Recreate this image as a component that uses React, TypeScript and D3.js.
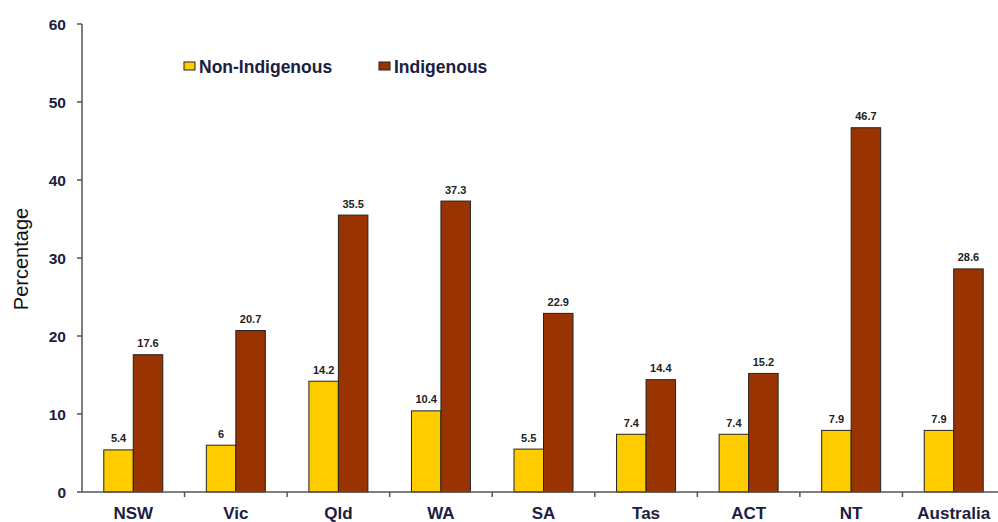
import React from "react";
import * as d3 from "d3";

const categories = ["NSW", "Vic", "Qld", "WA", "SA", "Tas", "ACT", "NT", "Australia"];
const seriesNames = ["Non-Indigenous", "Indigenous"];
const nonIndigenous = [5.4, 6, 14.2, 10.4, 5.5, 7.4, 7.4, 7.9, 7.9];
const indigenous = [17.6, 20.7, 35.5, 37.3, 22.9, 14.4, 15.2, 46.7, 28.6];
const yTicks = [0, 10, 20, 30, 40, 50, 60];
const colors = ["#FFCC00", "#993300"];

export default function App() {
  const W = 998, H = 522;
  const x0 = 82, x1 = 1005, yTop = 24, yBot = 492;
  const x = d3.scaleBand<string>().domain(categories).range([x0, x1]).paddingInner(0).paddingOuter(0);
  const y = d3.scaleLinear().domain([0, 60]).range([yBot, yTop]);
  const bw = 29.5;
  const series = [nonIndigenous, indigenous];
  const tickFont = "Arial, 'Liberation Sans', sans-serif";
  return (
    <svg width={W} height={H} style={{ position: "absolute", left: 0, top: 0 }}>
      <rect width={W} height={H} fill="#fff" />
      {/* bars */}
      {categories.map((c, i) => {
        const cx = (x(c) as number) + x.bandwidth() / 2;
        return series.map((s, k) => {
          const bx = cx - bw + k * bw;
          const v = s[i];
          return (
            <g key={c + k}>
              <rect x={bx} y={y(v)} width={bw} height={yBot - y(v)} fill={colors[k]} stroke="#222" strokeWidth={1} />
              <text x={bx + bw / 2} y={y(v) - 7.5} textAnchor="middle" fontFamily={tickFont} fontWeight="bold" fontSize={11} fill="#222">{String(v)}</text>
            </g>
          );
        });
      })}
      {/* y axis */}
      <line x1={x0} x2={x0} y1={yTop} y2={yBot} stroke="#555" strokeWidth={1.5} />
      {yTicks.map((t) => (
        <g key={t}>
          <line x1={x0 - 5} x2={x0} y1={y(t)} y2={y(t)} stroke="#555" strokeWidth={1.5} />
          <text x={x0 - 16} y={y(t) + 5.5} textAnchor="end" fontFamily={tickFont} fontWeight="bold" fontSize={15.5} fill="#1c2040">{t}</text>
        </g>
      ))}
      {/* x axis */}
      <line x1={x0} x2={x1} y1={yBot} y2={yBot} stroke="#555" strokeWidth={1.5} />
      {categories.map((c) => (
        <line key={"t" + c} x1={(x(c) as number) + x.bandwidth()} x2={(x(c) as number) + x.bandwidth()} y1={yBot} y2={yBot + 5} stroke="#555" strokeWidth={1.5} />
      ))}
      {categories.map((c) => (
        <text key={"l" + c} x={(x(c) as number) + x.bandwidth() / 2} y={519} textAnchor="middle" fontFamily={tickFont} fontWeight="bold" fontSize={17} fill="#1c2040">{c}</text>
      ))}
      {/* y title */}
      <text transform={`translate(28,259) rotate(-90)`} textAnchor="middle" fontFamily={tickFont} fontSize={20} fill="#111">Percentage</text>
      {/* legend */}
      {seriesNames.map((n, k) => {
        const lx = [184, 379][k];
        return (
          <g key={n}>
            <rect x={lx} y={62} width={11} height={8} fill={colors[k]} stroke="#222" strokeWidth={1} />
            <text x={lx + 15} y={73} fontFamily={tickFont} fontWeight="bold" fontSize={17.5} fill="#1c2040">{n}</text>
          </g>
        );
      })}
    </svg>
  );
}
